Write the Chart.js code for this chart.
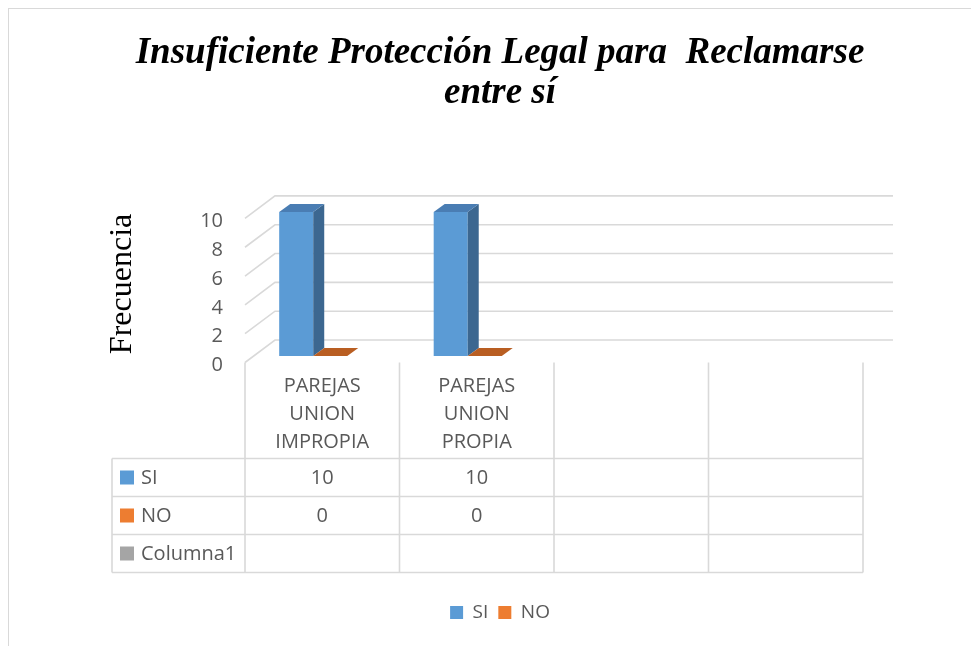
<!DOCTYPE html>
<html>
<head>
<meta charset="utf-8">
<script src="https://cdn.jsdelivr.net/npm/chart.js@4"></script>
<style>
html, body { margin: 0; padding: 0; overflow: hidden; background: #fff; }
#frame { position: absolute; left: 8px; top: 8px; width: 1000px; height: 700px; border: 1px solid #d9d9d9; }
#wrap { position: absolute; left: 0; top: 0; width: 971px; height: 646px; }
</style>
</head>
<body>
<div id="frame"></div>
<div id="wrap"><canvas id="chart" width="971" height="646"></canvas></div>
<script>
// data
var categories = [['PAREJAS', 'UNION', 'IMPROPIA'], ['PAREJAS', 'UNION', 'PROPIA'], '', '']
var siValues = [10, 10, null, null]
var noValues = [0, 0, null, null]
var columna1Values = [null, null, null, null]
var yTicks = [0, 2, 4, 6, 8, 10]

var textGray = '#595959'
var lineGray = '#d9d9d9'
var sansFont = '"Open Sans", "Noto Sans", sans-serif'
var serifFont = '"Liberation Serif", "Times New Roman", serif'

// fake 3d offsets, relative to the plane of the bars
var front = { x: -8, y: 6.5 }
var back = { x: 22, y: -16 }
var barDepth = { x: 11, y: -8 }

var wallPlugin = {
    id: 'wall',
    beforeDatasetsDraw: function (chart) {
        var ctx = chart.ctx, a = chart.chartArea, y = chart.scales.y
        ctx.save()
        ctx.strokeStyle = lineGray
        ctx.lineWidth = 1.6
        yTicks.forEach(function (v) {
            var py = y.getPixelForValue(v)
            ctx.beginPath()
            ctx.moveTo(a.left + front.x, py + front.y)
            ctx.lineTo(a.left + back.x, py + back.y)
            ctx.lineTo(a.right + back.x, py + back.y)
            ctx.stroke()
        })
        ctx.restore()
    },
    afterDatasetsDraw: function (chart) {
        var ctx = chart.ctx
        ctx.save()
        chart.data.datasets.forEach(function (ds, i) {
            var meta = chart.getDatasetMeta(i)
            meta.data.forEach(function (bar, j) {
                if (ds.data[j] === null) return
                var p = bar.getProps(['x', 'y', 'base', 'width'], true)
                var l = p.x - p.width / 2, r = p.x + p.width / 2
                // side
                ctx.fillStyle = ds.sideColor
                ctx.beginPath()
                ctx.moveTo(r, p.y)
                ctx.lineTo(r + barDepth.x, p.y + barDepth.y)
                ctx.lineTo(r + barDepth.x, p.base + barDepth.y)
                ctx.lineTo(r, p.base)
                ctx.closePath()
                ctx.fill()
                // top
                ctx.fillStyle = ds.topColor
                ctx.beginPath()
                ctx.moveTo(l, p.y)
                ctx.lineTo(l + barDepth.x, p.y + barDepth.y)
                ctx.lineTo(r + barDepth.x, p.y + barDepth.y)
                ctx.lineTo(r, p.y)
                ctx.closePath()
                ctx.fill()
            })
        })
        ctx.restore()
    }
}

// data table under the plot
var tablePlugin = {
    id: 'dataTable',
    afterDraw: function (chart) {
        var ctx = chart.ctx, x = chart.scales.x, y = chart.scales.y
        var n = chart.data.labels.length
        var step = x.getPixelForValue(1) - x.getPixelForValue(0)
        var edges = []
        for (var k = 0; k <= n; k++) edges.push(x.getPixelForValue(k) - step / 2 + front.x)
        var zero = y.getPixelForValue(0) + front.y
        var tableLeft = 112, rowH = 38
        var top = zero + 96
        var rows = chart.data.datasets
        var bottom = top + rows.length * rowH

        ctx.save()
        ctx.strokeStyle = lineGray
        ctx.lineWidth = 1.6
        ctx.beginPath()
        for (var r = 0; r <= rows.length; r++) {
            ctx.moveTo(tableLeft, top + r * rowH)
            ctx.lineTo(edges[n], top + r * rowH)
        }
        ctx.moveTo(tableLeft, top)
        ctx.lineTo(tableLeft, bottom)
        edges.forEach(function (ex) {
            ctx.moveTo(ex, zero)
            ctx.lineTo(ex, bottom)
        })
        ctx.stroke()

        ctx.font = '20px ' + sansFont
        ctx.textBaseline = 'middle'
        rows.forEach(function (ds, i) {
            var cy = top + i * rowH + rowH / 2
            ctx.fillStyle = ds.backgroundColor
            ctx.fillRect(tableLeft + 8, cy - 7, 14, 14)
            ctx.fillStyle = textGray
            ctx.textAlign = 'left'
            ctx.fillText(ds.label, tableLeft + 29, cy + 1)
            ctx.textAlign = 'center'
            ds.data.forEach(function (v, j) {
                if (v === null) return
                ctx.fillText(String(v), (edges[j] + edges[j + 1]) / 2, cy + 1)
            })
        })
        ctx.restore()
    }
}

new Chart(document.getElementById('chart'), {
    type: 'bar',
    data: {
        labels: categories,
        datasets: [
            { label: 'SI', data: siValues, backgroundColor: '#5b9bd5', sideColor: '#3c6790', topColor: '#4a7db3' },
            { label: 'NO', data: noValues, backgroundColor: '#ed7d31', sideColor: '#a9561f', topColor: '#b95e22' },
            { label: 'Columna1', data: columna1Values, backgroundColor: '#a5a5a5', sideColor: '#737373', topColor: '#8a8a8a' }
        ]
    },
    options: {
        responsive: false,
        animation: false,
        barPercentage: 1,
        categoryPercentage: 0.661,
        layout: { padding: { top: 0, left: 100, right: 71, bottom: 14 } },
        plugins: {
            title: {
                display: true,
                text: ['Insuficiente Protección Legal para  Reclamarse', 'entre sí'],
                color: '#000',
                font: { family: serifFont, size: 37, weight: 'bold', style: 'italic', lineHeight: 1.08 },
                padding: { top: 33, bottom: 99 }
            },
            legend: {
                position: 'bottom',
                labels: {
                    color: textGray,
                    font: { family: sansFont, size: 19 },
                    boxWidth: 13,
                    boxHeight: 13,
                    padding: 10,
                    filter: function (item) { return item.text !== 'Columna1' }
                }
            },
            tooltip: { enabled: false }
        },
        scales: {
            x: {
                grid: { display: false, drawTicks: false },
                border: { display: false },
                ticks: { color: textGray, font: { family: sansFont, size: 20, lineHeight: 1.42 }, padding: 15.75, labelOffset: -8, maxRotation: 0 },
                afterFit: function (scale) { scale.height = 237 }
            },
            y: {
                min: 0,
                max: 10,
                grid: { display: false, drawTicks: false },
                border: { display: false },
                ticks: { stepSize: 2, color: textGray, font: { family: sansFont, size: 20 }, padding: 30, labelOffset: 9.5 },
                title: { display: true, text: 'Frecuencia', color: '#000', font: { family: serifFont, size: 32 }, padding: { top: 3, bottom: 0 } },
                afterFit: function (scale) { scale.width = 153 }
            },
            y2: {
                position: 'right',
                display: true,
                grid: { display: false, drawTicks: false },
                border: { display: false },
                ticks: { display: false },
                afterFit: function (scale) { scale.width = 29 }
            }
        }
    },
    plugins: [wallPlugin, tablePlugin]
})
</script>
</body>
</html>
